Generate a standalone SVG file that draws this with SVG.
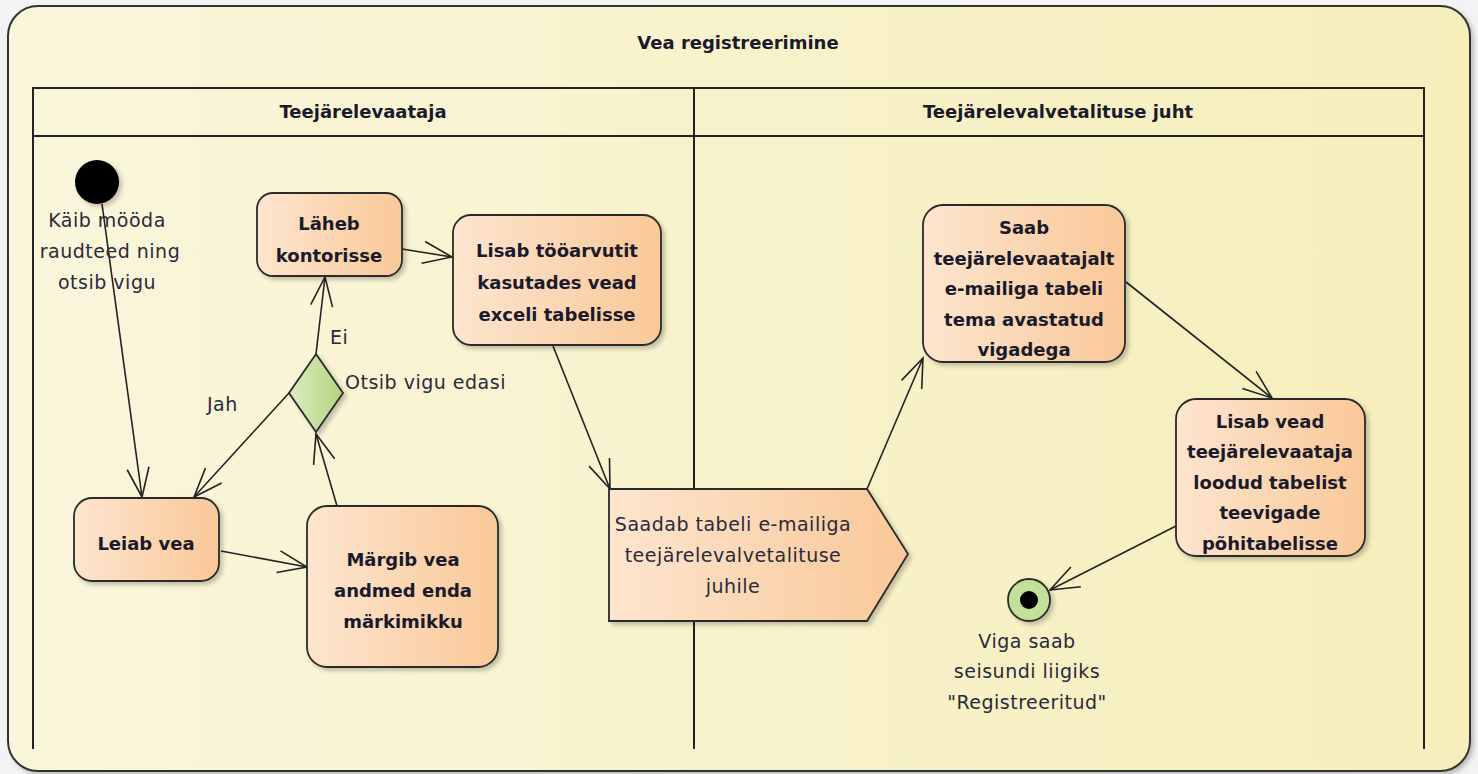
<svg xmlns="http://www.w3.org/2000/svg" width="1478" height="774" viewBox="0 0 1478 774">
  <defs>
    <linearGradient id="frameFill" x1="0" y1="0" x2="1" y2="0">
      <stop offset="0" stop-color="#faf6dc"/>
      <stop offset="1" stop-color="#f6eebb"/>
    </linearGradient>
    <linearGradient id="actFill" x1="0" y1="0" x2="1" y2="0">
      <stop offset="0" stop-color="#fde5cf"/>
      <stop offset="1" stop-color="#f9c898"/>
    </linearGradient>
    <linearGradient id="decFill" x1="0" y1="0" x2="1" y2="0">
      <stop offset="0" stop-color="#dcecbf"/>
      <stop offset="1" stop-color="#b4d57f"/>
    </linearGradient>
    <filter id="shadow" x="-10%" y="-10%" width="130%" height="130%">
      <feDropShadow dx="3" dy="3" stdDeviation="2" flood-color="#000" flood-opacity="0.22"/>
    </filter>
    <marker id="open" markerUnits="userSpaceOnUse" markerWidth="34" markerHeight="26" refX="30" refY="12" orient="auto">
      <path d="M1,1 L30,12 L1,23" fill="none" stroke="#222" stroke-width="1.6"/>
    </marker>
    <style>
      .act { fill: url(#actFill); stroke: #2a2a2a; stroke-width: 1.8; filter: url(#shadow); }
      .lane { fill: none; stroke: #222; stroke-width: 2; }
      .edge { fill: none; stroke: #222; stroke-width: 1.6; marker-end: url(#open); }
      .b { font-family: "DejaVu Sans", "Liberation Sans", sans-serif; font-weight: bold; font-size: 18px; fill: #1a1a2a; text-anchor: middle; }
      .n { font-family: "DejaVu Sans", "Liberation Sans", sans-serif; font-size: 19px; letter-spacing: 0.5px; fill: #2a2a3a; text-anchor: middle; }
      .nl { font-family: "DejaVu Sans", "Liberation Sans", sans-serif; font-size: 19px; letter-spacing: 0.5px; fill: #2a2a3a; }
    </style>
  </defs>

  <rect x="0" y="0" width="1478" height="774" fill="#f3f3f3"/>

  <!-- activity frame -->
  <g id="frame">
    <rect x="8" y="6" width="1462" height="765" rx="30" ry="30" fill="url(#frameFill)" stroke="#333" stroke-width="2" filter="url(#shadow)"/>
    <text class="b" x="738" y="49">Vea registreerimine</text>
  </g>

  <!-- swimlanes -->
  <g id="lanes">
    <path class="lane" d="M33,749 V88 H1424 V749 M33,136 H1424 M694,88 V489 M694,621 V749"/>
    <text class="b" x="363" y="118">Teejärelevaataja</text>
    <text class="b" x="1058" y="118">Teejärelevalvetalituse juht</text>
  </g>

  <!-- connectors -->
  <g id="connectors">
    <line class="edge" x1="102" y1="204" x2="142" y2="497"/>
    <line class="edge" x1="289" y1="393" x2="194" y2="497"/>
    <line class="edge" x1="221" y1="551" x2="307" y2="567"/>
    <line class="edge" x1="337" y1="506" x2="316" y2="434"/>
    <line class="edge" x1="316" y1="354" x2="325" y2="277"/>
    <line class="edge" x1="402" y1="249" x2="452" y2="257"/>
    <line class="edge" x1="553" y1="346" x2="610" y2="489"/>
    <line class="edge" x1="867" y1="489" x2="923" y2="358"/>
    <line class="edge" x1="1126" y1="282" x2="1272" y2="398"/>
    <line class="edge" x1="1176" y1="526" x2="1050" y2="590"/>
    <text class="nl" x="330" y="344">Ei</text>
    <text class="nl" x="345" y="389">Otsib vigu edasi</text>
    <text class="nl" x="207" y="411">Jah</text>
  </g>

  <g id="start">
    <circle cx="97" cy="182" r="22" fill="#000" filter="url(#shadow)"/>
    <text class="n" x="107" y="227">Käib mööda</text>
    <text class="n" x="110" y="258">raudteed ning</text>
    <text class="n" x="107" y="289">otsib vigu</text>
  </g>

  <g id="laheb">
    <rect class="act" x="257" y="193" width="145" height="83" rx="16"/>
    <text class="b" x="329" y="230">Läheb</text>
    <text class="b" x="329" y="262">kontorisse</text>
  </g>

  <g id="lisab-exceli">
    <rect class="act" x="453" y="215" width="208" height="130" rx="18"/>
    <text class="b" x="557" y="257">Lisab tööarvutit</text>
    <text class="b" x="557" y="289">kasutades vead</text>
    <text class="b" x="557" y="321">exceli tabelisse</text>
  </g>

  <g id="decision">
    <polygon points="316,354 343,393 316,432 289,393" fill="url(#decFill)" stroke="#2a2a2a" stroke-width="1.8" filter="url(#shadow)"/>
  </g>

  <g id="leiab">
    <rect class="act" x="74" y="498" width="145" height="83" rx="18"/>
    <text class="b" x="146" y="550">Leiab vea</text>
  </g>

  <g id="margib">
    <rect class="act" x="307" y="506" width="191" height="161" rx="20"/>
    <text class="b" x="403" y="566">Märgib vea</text>
    <text class="b" x="403" y="597">andmed enda</text>
    <text class="b" x="403" y="628">märkimikku</text>
  </g>

  <g id="saadab">
    <polygon points="609,489 867,489 908,554 867,621 609,621" fill="url(#actFill)" stroke="#2a2a2a" stroke-width="1.8" filter="url(#shadow)"/>
    <text class="n" x="733" y="531">Saadab tabeli e-mailiga</text>
    <text class="n" x="733" y="562">teejärelevalvetalituse</text>
    <text class="n" x="733" y="593">juhile</text>
  </g>

  <g id="saab">
    <rect class="act" x="923" y="205" width="202" height="157" rx="20"/>
    <text class="b" x="1024" y="234">Saab</text>
    <text class="b" x="1024" y="265">teejärelevaatajalt</text>
    <text class="b" x="1024" y="295">e-mailiga tabeli</text>
    <text class="b" x="1024" y="326">tema avastatud</text>
    <text class="b" x="1024" y="356">vigadega</text>
  </g>

  <g id="lisab-pohitabel">
    <rect class="act" x="1176" y="399" width="189" height="157" rx="20"/>
    <text class="b" x="1270" y="428">Lisab vead</text>
    <text class="b" x="1270" y="458">teejärelevaataja</text>
    <text class="b" x="1270" y="489">loodud tabelist</text>
    <text class="b" x="1270" y="519">teevigade</text>
    <text class="b" x="1270" y="550">põhitabelisse</text>
  </g>

  <g id="end">
    <circle cx="1029" cy="600" r="21" fill="#c2e09a" stroke="#2a2a2a" stroke-width="1.8" filter="url(#shadow)"/>
    <circle cx="1029" cy="600" r="9" fill="#000"/>
    <text class="n" x="1027" y="648">Viga saab</text>
    <text class="n" x="1027" y="678">seisundi liigiks</text>
    <text class="n" x="1027" y="709">"Registreeritud"</text>
  </g>
</svg>
